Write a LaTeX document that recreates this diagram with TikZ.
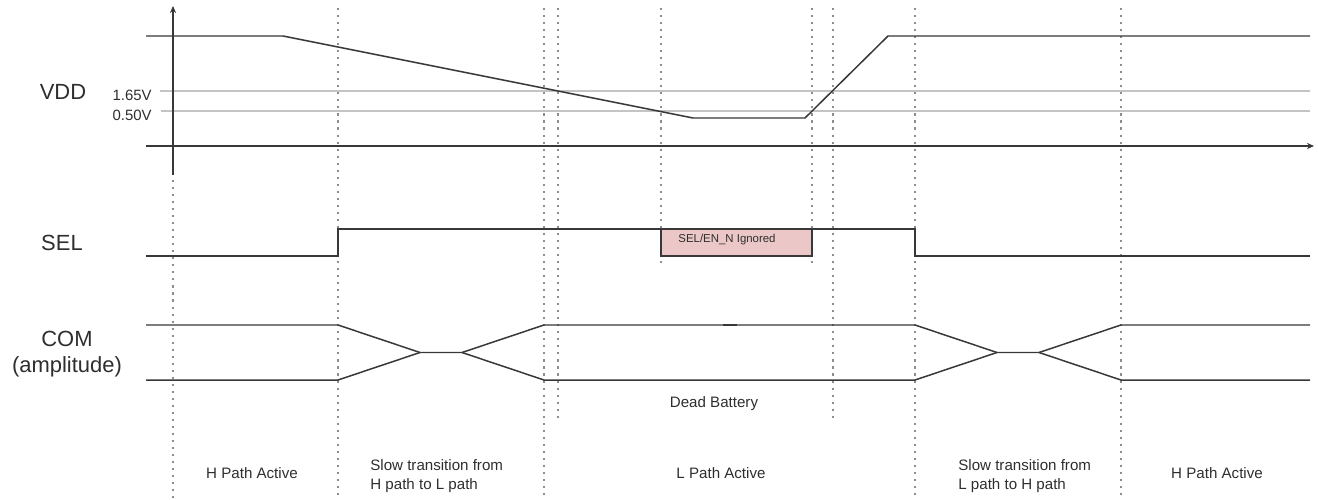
\documentclass[tikz,border=0pt]{standalone}
\usepackage{fontspec}
\setmainfont{Liberation Sans}
\usepackage{tikz}
\usetikzlibrary{arrows.meta}
\definecolor{SignalGray}{HTML}{383838}
\definecolor{RefGray}{HTML}{C4C4C4}
\definecolor{GuideGray}{HTML}{8E8E8E}
\definecolor{TextGray}{HTML}{2E2E2E}
\definecolor{IgnoreRose}{HTML}{EBC7C7}
\tikzset{
  sig/.style={draw=SignalGray,line width=0.85pt,line join=miter},
  refline/.style={draw=RefGray,line width=1.1pt},
  axisline/.style={draw=SignalGray,line width=0.9pt,-{Stealth[length=4pt,width=3.5pt]}},
  guide/.style={draw=GuideGray,line width=0.85pt,dash pattern=on 1.2pt off 2.8pt},
  siglabel/.style={font=\fontsize{12.5}{14}\selectfont,text=TextGray,inner sep=0pt},
  comlabel/.style={font=\fontsize{12.5}{15}\selectfont,text=TextGray,inner sep=0pt,align=center},
  levellabel/.style={font=\fontsize{8.5}{10}\selectfont,text=TextGray,inner sep=0pt,anchor=east},
  phaselabel/.style={font=\fontsize{8.6}{10.8}\selectfont,text=TextGray,inner sep=0pt,align=left},
  ignbox/.style={draw=SignalGray,fill=IgnoreRose,line width=0.85pt,
    minimum width=3.02cm,minimum height=0.54cm,inner sep=0pt},
  smalltxt/.style={font=\fontsize{6.5}{8}\selectfont,text=TextGray,inner sep=0pt},
}
\begin{document}
\begin{tikzpicture}[x=0.02cm,y=-0.02cm]
  \useasboundingbox (0,0) rectangle (1318,500);
  % phase boundaries
  \draw[guide] (173,180) -- (173,500);
  \draw[guide] (338,8) -- (338,500);
  \draw[guide] (544,8) -- (544,500);
  \draw[guide] (558,8) -- (558,420);
  \draw[guide] (661,8) -- (661,268);
  \draw[guide] (812,8) -- (812,268);
  \draw[guide] (833,8) -- (833,420);
  \draw[guide] (915,8) -- (915,500);
  \draw[guide] (1121,8) -- (1121,500);
  % VDD
  \node[siglabel] (vdd) at (63,92) {VDD};
  \node[levellabel] (lvhi) at (152,95) {1.65V};
  \node[levellabel] (lvlo) at (152,115) {0.50V};
  \draw[refline] (160,91) -- (1310,91);
  \draw[refline] (161,111) -- (1310,111);
  \draw[axisline] (146,146) -- (1314,146);
  \draw[axisline] (173,175) -- (173,6);
  \draw[sig] (146,36) -- (283,36) -- (693,118) -- (805,118) -- (888,36) -- (1310,36);
  % SEL
  \node[siglabel] (sel) at (62,243) {SEL};
  \draw[sig] (146,256) -- (338,256) -- (338,229) -- (915,229) -- (915,256) -- (1310,256);
  \node[ignbox] (ignored) at (736.5,242.5) {};
  \node[smalltxt] (ignoredtxt) at (727,240) {SEL/EN\_N Ignored};
  % COM
  \node[comlabel] (com) at (67,354) {COM\\(amplitude)};
  \draw[sig] (146,325) -- (338,325) -- (420,352.5) -- (462,352.5) -- (544,325) -- (915,325)
    -- (997,352.5) -- (1039,352.5) -- (1121,325) -- (1310,325);
  \draw[sig] (146,380) -- (338,380) -- (420,352.5);
  \draw[sig] (462,352.5) -- (544,380) -- (915,380) -- (997,352.5);
  \draw[sig] (1039,352.5) -- (1121,380) -- (1310,380);
  \draw[draw=SignalGray,line width=1.6pt] (723,325) -- (737,325);
  \node[phaselabel] (dead) at (714,404) {Dead Battery};
  % phase names
  \node[phaselabel] (hleft) at (252,473) {H Path Active};
  \node[phaselabel,anchor=west] (htol) at (370,476) {Slow transition from\\H path to L path};
  \node[phaselabel] (lmid) at (721,473) {L Path Active};
  \node[phaselabel,anchor=west] (ltoh) at (958,476) {Slow transition from\\L path to H path};
  \node[phaselabel] (hright) at (1217,473) {H Path Active};
\end{tikzpicture}
\end{document}
